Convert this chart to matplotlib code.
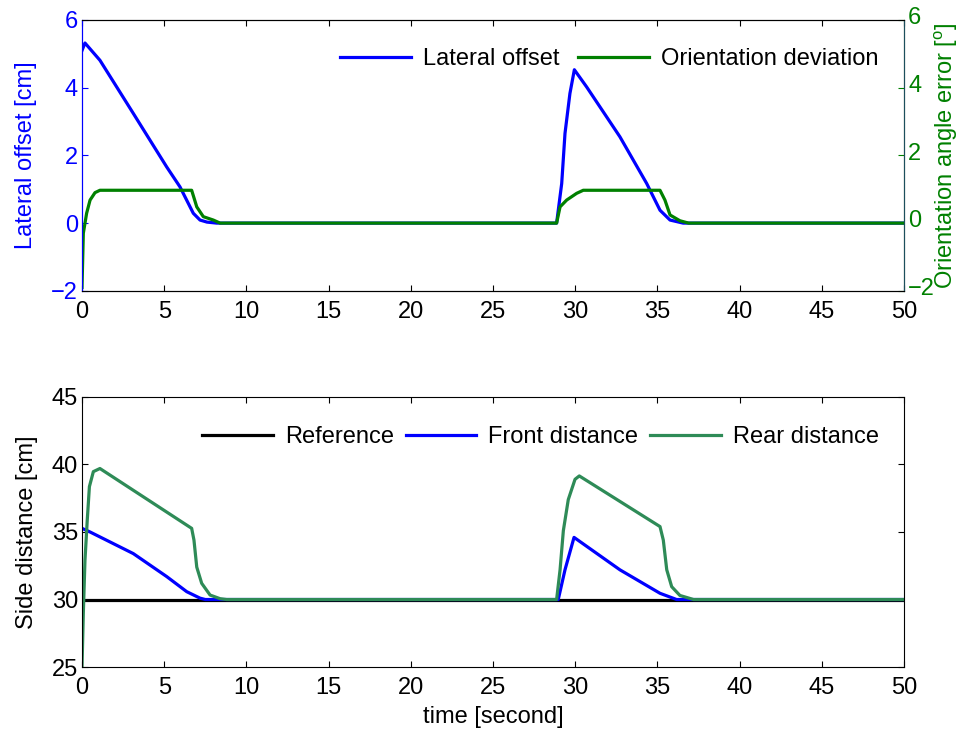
import matplotlib
matplotlib.use("Agg")
import matplotlib.pyplot as plt
import matplotlib.transforms as mtransforms

plt.rcParams['font.family'] = ['Liberation Sans', 'DejaVu Sans']
plt.rcParams['mathtext.fontset'] = 'custom'
plt.rcParams['mathtext.rm'] = 'Liberation Sans'

# top panel: lateral offset (left axis) and orientation deviation (right axis)
lat_t = [0, 0.18, 1.09, 3.12, 5.15, 5.96, 6.77, 7.18, 7.6, 8.2,
         28.87, 29.18, 29.38, 29.68, 29.95, 30.7, 32.72, 34.35, 35.16, 35.77, 36.57, 50]
lat_v = [5.1, 5.32, 4.81, 3.24, 1.66, 1.07, 0.29, 0.09, 0.03, 0,
         0, 1.17, 2.65, 3.83, 4.53, 4.02, 2.55, 1.17, 0.38, 0.09, 0, 0]
ori_t = [0, 0.08, 0.28, 0.49, 0.79, 1.09, 6.67, 6.98, 7.38, 7.99, 8.4,
         28.87, 29.08, 29.48, 30.09, 30.49, 35.16, 35.46, 35.77, 36.37, 36.9, 50]
ori_v = [-1.9, -0.3, 0.29, 0.68, 0.9, 0.97, 0.97, 0.48, 0.19, 0.09, 0,
         0, 0.48, 0.68, 0.88, 0.97, 0.97, 0.68, 0.24, 0.07, 0, 0]

# bottom panel: side distances
ref_t = [0, 50]
ref_v = [30, 30]
front_t = [0, 0.49, 3.12, 5.15, 6.37, 7.18, 7.5, 28.97, 29.38, 29.93, 32.72, 35.16, 36.17, 50]
front_v = [35.27, 35.0, 33.4, 31.7, 30.58, 30.1, 30, 30, 32.2, 34.6, 32.2, 30.46, 30, 30]
rear_t = [0, 0.08, 0.18, 0.32, 0.45, 0.69, 1.09, 6.67, 6.81, 6.98, 7.28, 7.79, 8.4, 8.8,
          28.87, 29.08, 29.28, 29.58, 29.99, 30.25, 35.16, 35.36, 35.57, 35.87, 36.37, 37.2, 50]
rear_v = [25, 28.98, 32.9, 35.9, 38.36, 39.47, 39.7, 35.27, 34.4, 32.4, 31.2, 30.33, 30.06, 30,
          30, 32.2, 35.1, 37.4, 38.9, 39.15, 35.4, 34.4, 32.2, 30.95, 30.3, 30, 30]

xticks = list(range(0, 51, 5))
fs = 17
lw = 2.3
green = '#008000'
rear_col = '#2E8B57'

fig = plt.figure(figsize=(9.74, 7.4), dpi=100)
ax1 = fig.add_axes([0.0842, 0.607, 0.8439, 0.366])
ax2 = ax1.twinx()
ax3 = fig.add_axes([0.0842, 0.0986, 0.8439, 0.365])

h1, = ax1.plot(lat_t, lat_v, color='blue', lw=lw, label='Lateral offset')
h2, = ax2.plot(ori_t, ori_v, color=green, lw=lw, label='Orientation deviation')
for a in (ax1, ax2):
    a.set_xlim(0, 50)
    a.set_ylim(-2, 6)
    a.set_yticks([-2, 0, 2, 4, 6])
ax1.set_xticks(xticks)
ax1.tick_params(axis='x', direction='in', top=True, length=4, labelsize=fs, colors='black', pad=7)
ax1.tick_params(axis='y', direction='in', length=4, labelsize=fs, colors='blue', pad=3)
ax2.tick_params(axis='y', direction='in', length=4, labelsize=fs, colors=green, pad=3)
# nudge right-hand labels up a touch so "-2" clears the "50" below it
shift = mtransforms.ScaledTranslation(0, 3 / 72, fig.dpi_scale_trans)
for lab in ax2.get_yticklabels():
    lab.set_transform(lab.get_transform() + shift)
ax1.spines['left'].set_color('blue')
ax2.spines['left'].set_color('blue')
ax2.spines['right'].set_color('#1c4f5c')
ax1.set_ylabel('Lateral offset [cm]', fontsize=fs, color='blue', labelpad=10)
ax2.set_ylabel(r'Orientation angle error [$^{\mathrm{o}}$]', fontsize=fs, color=green, labelpad=-2)
ax2.legend(handles=[h1, h2], loc='upper right', ncol=2, frameon=False, fontsize=fs,
           handlelength=3.0, handletextpad=0.5, columnspacing=0.8,
           bbox_to_anchor=(0.995, 0.975))

ax3.plot(ref_t, ref_v, color='black', lw=lw, label='Reference')
ax3.plot(front_t, front_v, color='blue', lw=lw, label='Front distance')
ax3.plot(rear_t, rear_v, color=rear_col, lw=lw, label='Rear distance')
ax3.set_xlim(0, 50)
ax3.set_ylim(25, 45)
ax3.set_xticks(xticks)
ax3.set_yticks([25, 30, 35, 40, 45])
ax3.tick_params(axis='y', direction='in', right=True, length=4, labelsize=fs, pad=3)
ax3.tick_params(axis='x', direction='in', top=True, length=4, labelsize=fs, pad=7)
ax3.set_ylabel('Side distance [cm]', fontsize=fs, labelpad=10)
ax3.set_xlabel('time [second]', fontsize=fs, labelpad=5)
ax3.legend(loc='upper right', ncol=3, frameon=False, fontsize=fs,
           handlelength=3.0, handletextpad=0.5, columnspacing=0.5,
           bbox_to_anchor=(0.995, 0.97))

fig.savefig('out.png', dpi=100)
